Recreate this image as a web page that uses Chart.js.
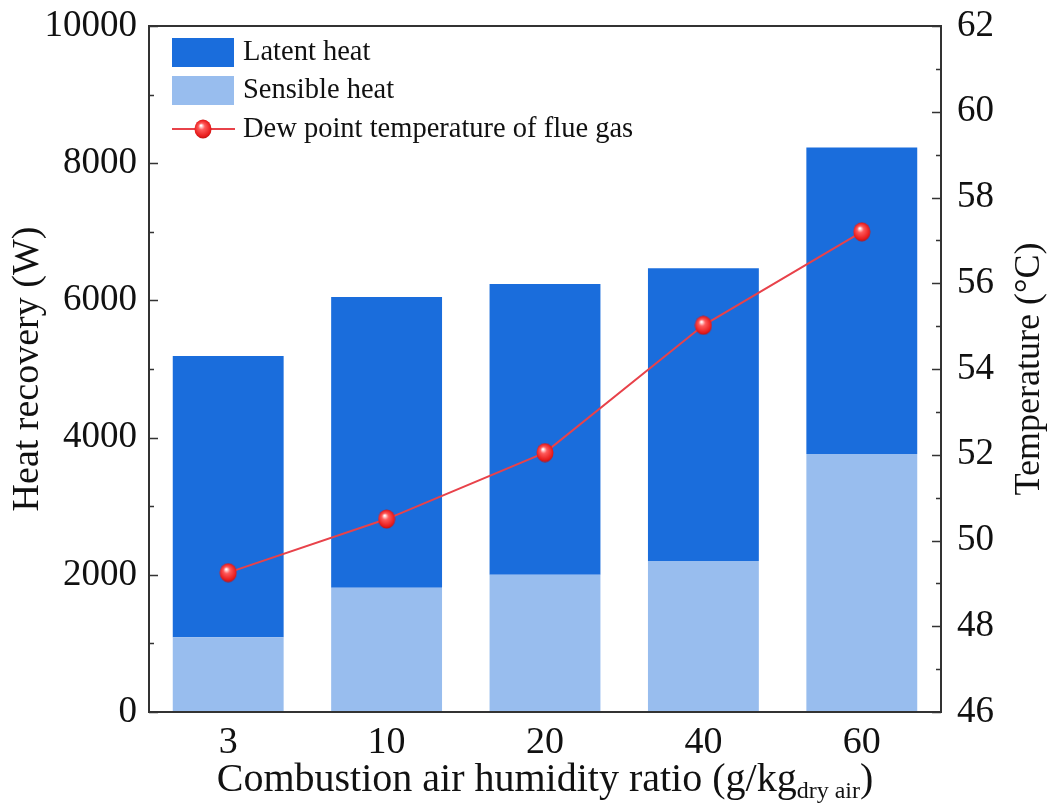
<!DOCTYPE html>
<html lang="en">
<head>
<meta charset="UTF-8">
<title>Heat recovery vs combustion air humidity ratio</title>
<script src="https://cdn.jsdelivr.net/npm/chart.js"></script>
<style>
  body { margin: 0; background: #fff; }
  .chart-box { position: relative; width: 1050px; height: 805px; }
</style>
</head>
<body>
<div class="chart-box"><canvas id="chart"></canvas></div>
<script>
// data
const humidityRatios = ['3', '10', '20', '40', '60'];
const sensibleHeat = [1090, 1810, 2000, 2200, 3760];
const latentHeat = [4100, 4240, 4240, 4270, 4470];
const dewPoint = [49.25, 50.5, 52.05, 55.02, 57.2];
const heatLabels = [0, 2000, 4000, 6000, 8000, 10000];
const tempLabels = [46, 48, 50, 52, 54, 56, 58, 60, 62];

const SERIF = "'Liberation Serif', 'Times New Roman', serif";
const INK = '#111';

// little shaded ball used as the point marker
function makeBall() {
    const c = document.createElement('canvas');
    c.width = 18; c.height = 20;
    const g = c.getContext('2d');
    const grad = g.createRadialGradient(7, 6.5, 0.5, 9, 10, 10);
    grad.addColorStop(0, '#ffffff');
    grad.addColorStop(0.3, '#ff5a5a');
    grad.addColorStop(0.8, '#e81c1c');
    grad.addColorStop(1, '#b01010');
    g.fillStyle = grad;
    g.beginPath();
    g.ellipse(9, 10, 8.5, 9.5, 0, 0, Math.PI * 2);
    g.fill();
    return c;
}
const ball = makeBall();

// frame, inward ticks, legend and the x title with its subscript
const decorations = {
    id: 'decorations',
    afterDraw(chart) {
        const { ctx, chartArea: a, scales } = chart;
        ctx.save();

        ctx.strokeStyle = '#333';
        ctx.lineWidth = 2;
        ctx.strokeRect(a.left, a.top, a.right - a.left, a.bottom - a.top);

        ctx.lineWidth = 1.5;
        ctx.beginPath();
        scales.y.ticks.forEach(t => {
            const py = Math.round(scales.y.getPixelForValue(t.value)) + 0.5;
            const len = heatLabels.includes(t.value) ? 9 : 5;
            ctx.moveTo(a.left, py); ctx.lineTo(a.left + len, py);
        });
        scales.y1.ticks.forEach(t => {
            const py = Math.round(scales.y1.getPixelForValue(t.value)) + 0.5;
            const len = tempLabels.includes(t.value) ? 9 : 5;
            ctx.moveTo(a.right, py); ctx.lineTo(a.right - len, py);
        });
        ctx.stroke();

        // legend
        const ds = chart.data.datasets;
        const lx = 172, tx = 243;
        const rows = [
            { d: ds[1], y: 52 },
            { d: ds[0], y: 90 },
            { d: ds[2], y: 129 }
        ];
        ctx.font = '28.5px ' + SERIF;
        ctx.fillStyle = INK;
        ctx.textBaseline = 'middle';
        ctx.textAlign = 'left';
        rows.forEach(r => {
            if (r.d.type === 'line') {
                ctx.strokeStyle = r.d.borderColor;
                ctx.lineWidth = 2;
                ctx.beginPath();
                ctx.moveTo(lx, r.y); ctx.lineTo(lx + 63, r.y);
                ctx.stroke();
                ctx.drawImage(ball, lx + 31 - 9, r.y - 10);
            } else {
                ctx.fillStyle = r.d.backgroundColor;
                ctx.fillRect(lx, r.y - 14, 62, 29);
            }
            ctx.fillStyle = INK;
            ctx.fillText(r.d.label, tx, r.y + 1);
        });

        // x axis title with subscript
        const main = 'Combustion air humidity ratio (g/kg';
        const sub = 'dry air';
        const close = ')';
        const big = '40px ' + SERIF, small = '24px ' + SERIF;
        ctx.font = big;
        const wMain = ctx.measureText(main).width;
        const wClose = ctx.measureText(close).width;
        ctx.font = small;
        const wSub = ctx.measureText(sub).width;
        let x = (a.left + a.right) / 2 - (wMain + wSub + wClose) / 2;
        const base = 791;
        ctx.textBaseline = 'alphabetic';
        ctx.font = big;
        ctx.fillText(main, x, base);
        x += wMain;
        ctx.font = small;
        ctx.fillText(sub, x, base + 7);
        x += wSub;
        ctx.font = big;
        ctx.fillText(close, x, base);

        // right axis title, reading bottom to top
        ctx.font = '36px ' + SERIF;
        ctx.textAlign = 'center';
        ctx.textBaseline = 'middle';
        ctx.translate(1030, (a.top + a.bottom) / 2);
        ctx.rotate(-Math.PI / 2);
        ctx.fillText('Temperature (\u00B0C)', 0, 0);

        ctx.restore();
    }
};

// keep the plot box where the figure has it
function noEdgePadding(s) {
    s.paddingTop = 0;
    s.paddingBottom = 0;
    s.paddingLeft = 0;
    s.paddingRight = 0;
}

new Chart(document.getElementById('chart'), {
    type: 'bar',
    data: {
        labels: humidityRatios,
        datasets: [
            {
                label: 'Sensible heat',
                data: sensibleHeat,
                backgroundColor: '#98bdee',
                yAxisID: 'y',
                stack: 'heat',
                order: 1,
                barPercentage: 0.7,
                categoryPercentage: 1.0
            },
            {
                label: 'Latent heat',
                data: latentHeat,
                backgroundColor: '#1a6ddc',
                yAxisID: 'y',
                stack: 'heat',
                order: 1,
                barPercentage: 0.7,
                categoryPercentage: 1.0
            },
            {
                type: 'line',
                label: 'Dew point temperature of flue gas',
                data: dewPoint,
                yAxisID: 'y1',
                borderColor: '#e8424a',
                borderWidth: 2,
                pointStyle: ball,
                tension: 0,
                order: 0
            }
        ]
    },
    options: {
        responsive: true,
        maintainAspectRatio: false,
        animation: false,
        layout: { padding: { top: 26, left: 0, right: 0, bottom: 0 } },
        plugins: {
            legend: { display: false },
            tooltip: { enabled: false }
        },
        scales: {
            x: {
                stacked: true,
                grid: { display: false, drawTicks: false },
                border: { display: false },
                ticks: { color: INK, font: { family: SERIF, size: 38 }, padding: 8 },
                afterFit(s) { s.height = 93; noEdgePadding(s); }
            },
            y: {
                stacked: true,
                position: 'left',
                min: 0,
                max: 10000,
                grid: { display: false, drawTicks: false },
                border: { display: false },
                ticks: {
                    stepSize: 1000,
                    autoSkip: false,
                    color: INK,
                    font: { family: SERIF, size: 37 },
                    padding: 12,
                    callback: v => heatLabels.includes(v) ? String(v) : ''
                },
                title: {
                    display: true,
                    text: 'Heat recovery (W)',
                    color: INK,
                    font: { family: SERIF, size: 38 },
                    padding: { top: 5, bottom: 0 }
                },
                afterFit(s) { s.width = 149; noEdgePadding(s); }
            },
            y1: {
                position: 'right',
                stacked: false,
                min: 46,
                max: 62,
                grid: { display: false, drawTicks: false },
                border: { display: false },
                ticks: {
                    stepSize: 1,
                    autoSkip: false,
                    color: INK,
                    font: { family: SERIF, size: 37 },
                    padding: 16,
                    callback: v => tempLabels.includes(v) ? String(v) : ''
                },
                afterFit(s) { s.width = 109; noEdgePadding(s); }
            }
        }
    },
    plugins: [decorations]
});
</script>
</body>
</html>
